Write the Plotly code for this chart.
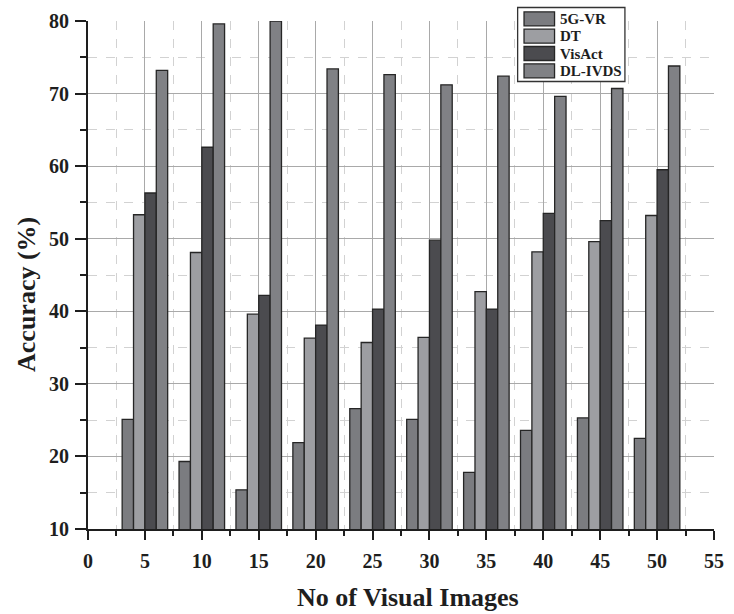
import plotly.graph_objects as go

# Number of visual images (group positions on the x axis)
images = [5, 10, 15, 20, 25, 30, 35, 40, 45, 50]

# Accuracy (%) per method
acc_5gvr = [25.1, 19.3, 15.4, 21.9, 26.6, 25.1, 17.8, 23.6, 25.3, 22.5]
acc_dt = [53.3, 48.1, 39.6, 36.3, 35.7, 36.4, 42.7, 48.2, 49.6, 53.2]
acc_visact = [56.3, 62.6, 42.2, 38.1, 40.3, 49.8, 40.3, 53.5, 52.5, 59.5]
acc_dlivds = [73.2, 79.6, 80.0, 73.4, 72.6, 71.2, 72.4, 69.6, 70.7, 73.8]

series_names = ["5G-VR", "DT", "VisAct", "DL-IVDS"]
series_values = [acc_5gvr, acc_dt, acc_visact, acc_dlivds]
series_colors = ["#7b7c80", "#9d9ea2", "#4b4b4f", "#808185"]

x_ticks = list(range(0, 60, 5))
y_ticks = list(range(10, 90, 10))

FONT = "Liberation Serif"
W, H = 734, 614
M_L, M_R, M_T, M_B = 88, 10, 21, 85

fig = go.Figure()
for name, vals, col in zip(series_names, series_values, series_colors):
    fig.add_trace(go.Bar(
        x=images, y=vals, name=name,
        marker=dict(color=col, line=dict(color="#262626", width=1.3)),
        showlegend=False,
    ))

axis_common = dict(
    showline=True, linewidth=2, linecolor="#1e1e1e",
    ticks="outside", tickwidth=2, tickcolor="#1e1e1e",
    showgrid=True, gridcolor="#a9a9a9", gridwidth=1.2,
    zeroline=False, mirror=False,
    tickfont=dict(family=FONT, size=20, color="#1e1e1e", weight="bold"),
)

fig.update_xaxes(
    **axis_common,
    range=[0, 55], tickmode="array", tickvals=x_ticks,
    ticklen=9, ticklabelstandoff=4,
    minor=dict(dtick=2.5, tick0=0, ticks="outside", ticklen=5, tickwidth=2,
               tickcolor="#1e1e1e", showgrid=True, gridcolor="#d2d2d2",
               griddash="dash", gridwidth=1),
)
fig.update_yaxes(
    **axis_common,
    range=[10, 80], tickmode="array", tickvals=y_ticks,
    ticklen=11, ticklabelstandoff=2,
    minor=dict(dtick=5, tick0=10, ticks="outside", ticklen=6, tickwidth=2,
               tickcolor="#1e1e1e", showgrid=True, gridcolor="#d2d2d2",
               griddash="dash", gridwidth=1),
)

# Positions below are given in pixels and converted to paper coordinates
plot_w = W - M_L - M_R
plot_h = H - M_T - M_B


def px_x(px):
    return (px - M_L) / plot_w


def px_y(py):
    return (H - M_B - py) / plot_h


title_font = dict(family=FONT, size=26, color="#1e1e1e")
annotations = [
    dict(xref="paper", yref="paper", x=px_x(413), y=px_y(597),
         xanchor="center", yanchor="middle", showarrow=False,
         text="<b>No of Visual Images</b>", font=title_font),
    dict(xref="paper", yref="paper", x=px_x(26), y=px_y(294),
         xanchor="center", yanchor="middle", showarrow=False, textangle=-90,
         text="<b>Accuracy (%)</b>", font=title_font),
]

# Legend box
shapes = [dict(type="rect", xref="paper", yref="paper", layer="above",
               x0=px_x(524.5), x1=px_x(633.5), y0=px_y(81.5), y1=px_y(7.5),
               fillcolor="white", line=dict(color="#333333", width=1.3))]
row_centers = [18.9, 36.2, 53.5, 70.8]
for name, col, cy in zip(series_names, series_colors, row_centers):
    shapes.append(dict(type="rect", xref="paper", yref="paper", layer="above",
                       x0=px_x(531), x1=px_x(562), y0=px_y(cy + 7), y1=px_y(cy - 7),
                       fillcolor=col, line=dict(color="#262626", width=1.3)))
    annotations.append(dict(xref="paper", yref="paper", x=px_x(565), y=px_y(cy),
                            xanchor="left", yanchor="middle", showarrow=False,
                            text=f"<b>{name}</b>",
                            font=dict(family=FONT, size=15, color="#1e1e1e")))

fig.update_layout(
    width=W, height=H,
    margin=dict(l=M_L, r=M_R, t=M_T, b=M_B, pad=0),
    paper_bgcolor="white", plot_bgcolor="white",
    barmode="group", bargap=0.2, bargroupgap=0,
    shapes=shapes, annotations=annotations,
    showlegend=False,
)

fig.write_html("out.html")
